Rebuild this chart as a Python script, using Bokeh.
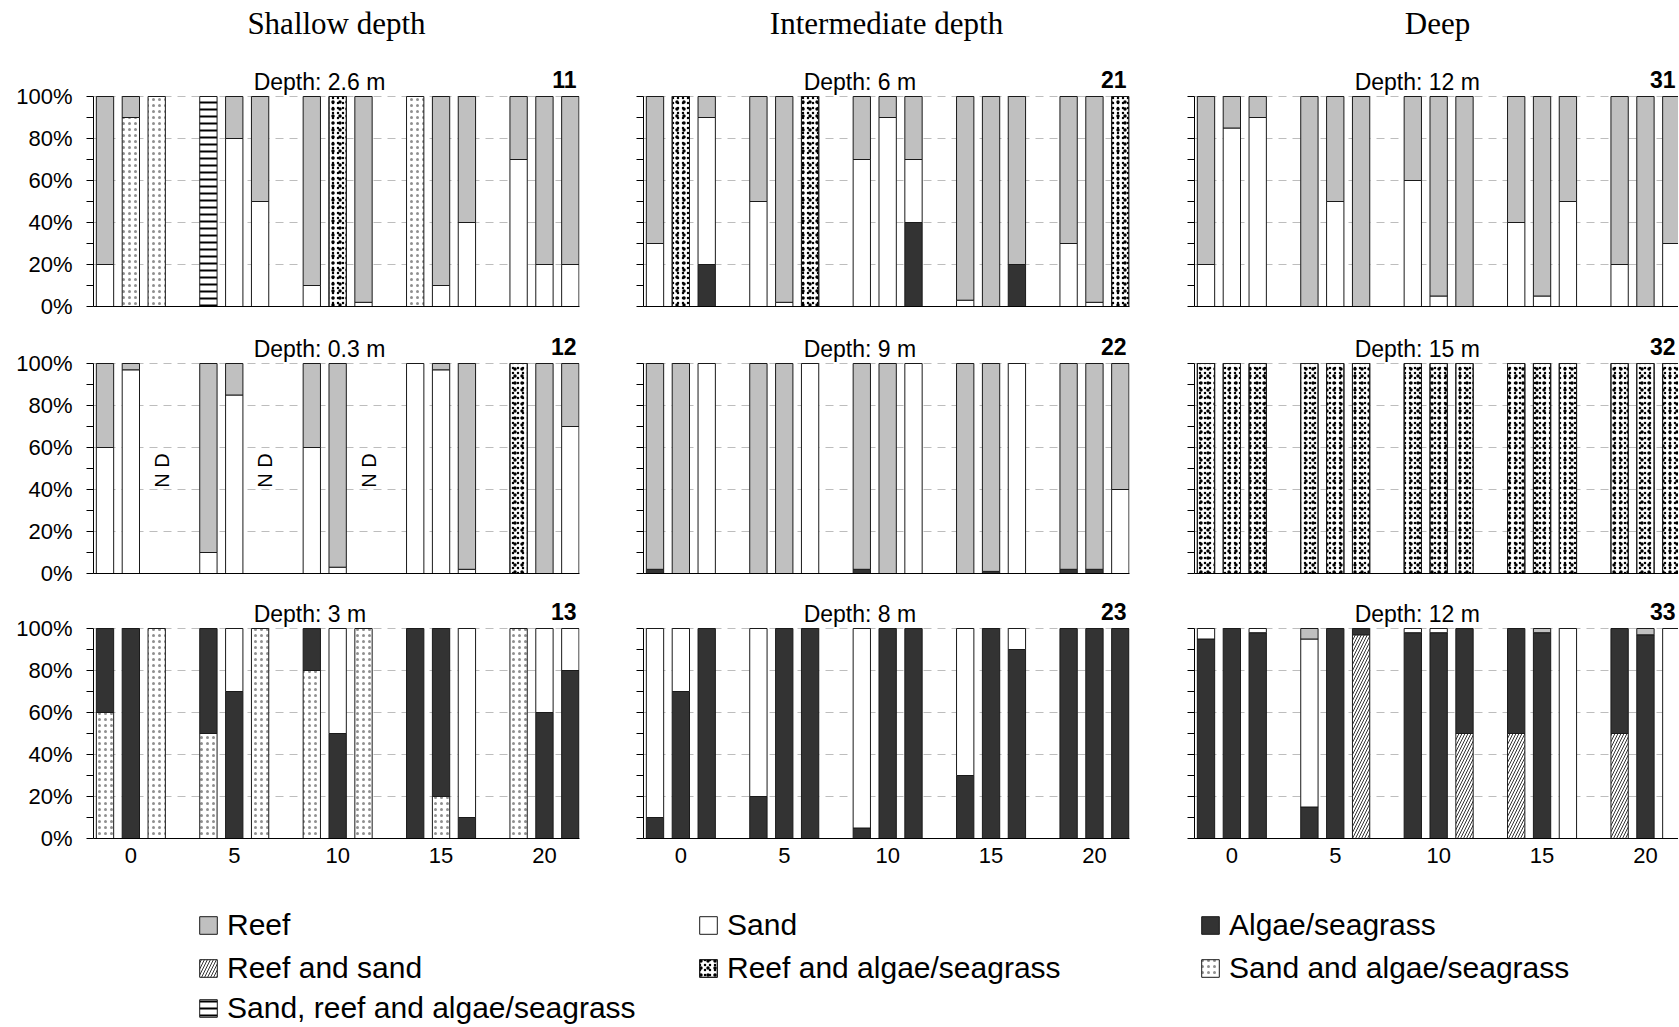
import math
from bokeh.plotting import figure
from bokeh.models import ColumnDataSource, Range1d, FixedTicker, Label, Legend, LegendItem
from bokeh.layouts import row, column
from bokeh.embed import file_html
from bokeh.resources import INLINE
from bokeh.core.properties import value

# ------------------------------------------------------------------ data
column_titles = ["Shallow depth", "Intermediate depth", "Deep"]
x_tick_labels = ["0", "5", "10", "15", "20"]          # distance groups
y_tick_values = [0, 20, 40, 60, 80, 100]
y_tick_labels = ["0%", "20%", "40%", "60%", "80%", "100%"]

# every list: 15 transects = 5 distance groups x 3 replicates (% of cover)
panel_11 = {
    "Reef":                          [80, 10, 0,   0, 20, 50,  90, 0, 98,   0, 90, 60,  30, 80, 80],
    "Sand":                          [20, 0, 0,    0, 80, 50,  10, 0, 2,    0, 10, 40,  70, 20, 20],
    "Sand and algae/seagrass":       [0, 90, 100,  0, 0, 0,    0, 0, 0,     100, 0, 0,  0, 0, 0],
    "Reef and algae/seagrass":       [0, 0, 0,     0, 0, 0,    0, 100, 0,   0, 0, 0,    0, 0, 0],
    "Sand, reef and algae/seagrass": [0, 0, 0,     100, 0, 0,  0, 0, 0,     0, 0, 0,    0, 0, 0],
}
panel_12 = {
    "Reef":                    [40, 3, 0,   90, 15, 0,  40, 97, 0,  0, 3, 98,    0, 100, 30],
    "Sand":                    [60, 97, 0,  10, 85, 0,  60, 3, 0,   100, 97, 2,  0, 0, 70],
    "Reef and algae/seagrass": [0, 0, 0,    0, 0, 0,    0, 0, 0,    0, 0, 0,     100, 0, 0],
}
panel_12_no_data = [0, 0, 1,  0, 0, 1,  0, 0, 1,  0, 0, 0,  0, 0, 0]
panel_13 = {
    "Sand and algae/seagrass": [60, 0, 100,  50, 0, 100,  80, 0, 100,  0, 20, 0,    100, 0, 0],
    "Algae/seagrass":          [40, 100, 0,  50, 70, 0,   20, 50, 0,   100, 80, 10, 0, 60, 80],
    "Sand":                    [0, 0, 0,     0, 30, 0,    0, 50, 0,    0, 0, 90,    0, 40, 20],
}
panel_21 = {
    "Reef":                    [70, 0, 10,  50, 98, 0,  30, 10, 30,  97, 100, 80,  70, 98, 0],
    "Sand":                    [30, 0, 70,  50, 2, 0,   70, 90, 30,  3, 0, 0,      30, 2, 0],
    "Algae/seagrass":          [0, 0, 20,   0, 0, 0,    0, 0, 40,    0, 0, 20,     0, 0, 0],
    "Reef and algae/seagrass": [0, 100, 0,  0, 0, 100,  0, 0, 0,     0, 0, 0,      0, 0, 100],
}
panel_22 = {
    "Reef":           [98, 100, 0,  100, 100, 0,  98, 100, 0,  100, 99, 0,  98, 98, 60],
    "Sand":           [0, 0, 100,   0, 0, 100,    0, 0, 100,   0, 0, 100,   0, 0, 40],
    "Algae/seagrass": [2, 0, 0,     0, 0, 0,      2, 0, 0,     0, 1, 0,     2, 2, 0],
}
panel_23 = {
    "Algae/seagrass": [10, 70, 100,  20, 100, 100,  5, 100, 100,  30, 100, 90,  100, 100, 100],
    "Sand":           [90, 30, 0,    80, 0, 0,      95, 0, 0,     70, 0, 10,    0, 0, 0],
}
panel_31 = {
    "Reef": [80, 15, 10,  100, 50, 100,  40, 95, 100,  60, 95, 50,  80, 100, 70],
    "Sand": [20, 85, 90,  0, 50, 0,      60, 5, 0,     40, 5, 50,   20, 0, 30],
}
panel_32 = {
    "Reef and algae/seagrass": [100, 100, 100,  100, 100, 100,  100, 100, 100,  100, 100, 100,  100, 100, 100],
}
panel_33 = {
    "Reef and sand":  [0, 0, 0,     0, 0, 97,   0, 0, 50,    50, 0, 0,   50, 0, 0],
    "Algae/seagrass": [95, 100, 98, 15, 100, 3, 98, 98, 50,  50, 98, 0,  50, 97, 0],
    "Sand":           [5, 0, 2,     80, 0, 0,   2, 2, 0,     0, 0, 100,  0, 0, 100],
    "Reef":           [0, 0, 0,     5, 0, 0,    0, 0, 0,     0, 2, 0,    0, 3, 0],
}

depth_labels = {"11": "Depth: 2.6 m", "12": "Depth: 0.3 m", "13": "Depth: 3 m",
                "21": "Depth: 6 m", "22": "Depth: 9 m", "23": "Depth: 8 m",
                "31": "Depth: 12 m", "32": "Depth: 15 m", "33": "Depth: 12 m"}

# ------------------------------------------------------------------ styles
STACK_ORDER = ["Sand, reef and algae/seagrass", "Reef and algae/seagrass",
               "Sand and algae/seagrass", "Reef and sand",
               "Algae/seagrass", "Sand", "Reef"]
# each category: list of layers drawn on top of each other
STYLE = {
    "Reef": [dict(fill_color="#c0c0c0")],
    "Sand": [dict(fill_color="white")],
    "Algae/seagrass": [dict(fill_color="#333333")],
    "Reef and sand": [dict(fill_color="white", hatch_pattern="right_diagonal_line",
                           hatch_scale=6, hatch_weight=1, hatch_color="#333333")],
    "Reef and algae/seagrass": [dict(fill_color="white", hatch_pattern="dot",
                                     hatch_scale=5, hatch_color="black"),
                                dict(fill_alpha=0, hatch_pattern="dot",
                                     hatch_scale=7, hatch_color="black")],
    "Sand and algae/seagrass": [dict(fill_color="white", hatch_pattern="dot",
                                     hatch_scale=6, hatch_color="#444444", hatch_alpha=0.6)],
    "Sand, reef and algae/seagrass": [dict(fill_color="white", hatch_pattern="horizontal_line",
                                           hatch_scale=7, hatch_weight=2, hatch_color="black")],
}
FONT = "Liberation Sans"
SERIF = "Liberation Serif"

FIG_W = [610, 552, 516]
BORDER_L = [93, 33, 32]
FRAME_W = [486, 486, 484]
FIG_H = [330, 266, 284]
BORDER_B = [24, 23, 42]
PX_PER_PCT = 2.1
SLOT_PX = 25.85
X0 = -0.445
BAR_W = 0.67

N_REP = 3
SLOT_PER_GROUP = 4
bar_x = [g * SLOT_PER_GROUP + k for g in range(len(x_tick_labels)) for k in range(N_REP)]
x_tick_pos = [g * SLOT_PER_GROUP + 1 for g in range(len(x_tick_labels))]


def make_panel(ci, ri, data, number, no_data=None):
    x_end = X0 + FRAME_W[ci] / SLOT_PX
    frame_h = FIG_H[ri] - BORDER_B[ri]
    y_end = frame_h / PX_PER_PCT
    p = figure(width=FIG_W[ci], height=FIG_H[ri], output_backend="svg",
               toolbar_location=None, x_range=Range1d(X0, x_end),
               y_range=Range1d(0, y_end),
               min_border_left=BORDER_L[ci],
               min_border_right=FIG_W[ci] - BORDER_L[ci] - FRAME_W[ci],
               min_border_top=0,
               min_border_bottom=BORDER_B[ri])
    p.outline_line_color = None
    p.background_fill_color = "white"
    p.border_fill_color = "white"

    # stacked bars
    cum = [0.0] * len(bar_x)
    for cat in STACK_ORDER:
        if cat not in data:
            continue
        vals = data[cat]
        xs, bots, tops = [], [], []
        for i, v in enumerate(vals):
            if v > 0:
                xs.append(bar_x[i]); bots.append(cum[i]); tops.append(cum[i] + v)
            cum[i] += v
        if xs:
            src = ColumnDataSource(dict(x=xs, bottom=bots, top=tops))
            for layer in STYLE[cat]:
                p.vbar(x="x", bottom="bottom", top="top", width=BAR_W, source=src,
                       line_color="#1a1a1a", line_width=1, **layer)

    if no_data is not None:
        nx = [bar_x[i] + 0.2 for i, f in enumerate(no_data) if f]
        p.text(x=nx, y=[49] * len(nx), text=["N D"] * len(nx), angle=math.pi / 2,
               text_font=value(FONT), text_font_size="20px", text_align="center",
               text_baseline="middle", text_color="black")

    # axes
    yax = p.yaxis[0]
    yax.bounds = (0, 100)
    yax.ticker = FixedTicker(ticks=y_tick_values, minor_ticks=[10, 30, 50, 70, 90])
    if ci == 0:
        yax.major_label_overrides = {v: l for v, l in zip(y_tick_values, y_tick_labels)}
    else:
        yax.major_label_overrides = {v: "" for v in y_tick_values}
    yax.major_label_text_font = FONT
    yax.major_label_text_font_size = "22px"
    yax.major_label_text_color = "black"
    yax.major_label_standoff = 14
    yax.major_tick_out = 7
    yax.major_tick_in = 0
    yax.minor_tick_out = 7
    yax.minor_tick_in = 0
    yax.axis_line_color = "black"
    yax.major_tick_line_color = "black"
    yax.minor_tick_line_color = "black"

    xax = p.xaxis[0]
    if ri == 2:
        xax.ticker = FixedTicker(ticks=x_tick_pos)
        xax.major_label_overrides = {v: l for v, l in zip(x_tick_pos, x_tick_labels)}
    else:
        xax.ticker = FixedTicker(ticks=[])
    xax.major_label_text_font = FONT
    xax.major_label_text_font_size = "22px"
    xax.major_label_text_color = "black"
    xax.major_label_standoff = 9
    xax.major_tick_out = 0
    xax.major_tick_in = 0
    xax.minor_tick_out = 0
    xax.minor_tick_in = 0
    xax.axis_line_color = "black"

    p.xgrid.visible = False
    p.ygrid.ticker = FixedTicker(ticks=[20, 40, 60, 80, 100])
    p.ygrid.grid_line_color = "#bdbdbd"
    p.ygrid.grid_line_dash = "8 6"
    p.ygrid.grid_line_width = 1

    # labels
    p.add_layout(Label(x=5.75, y=100, y_offset=15, text=depth_labels[number],
                       text_font=FONT, text_font_size="23px", text_align="left",
                       text_baseline="alphabetic", text_color="black"))
    p.add_layout(Label(x=x_end, y=100, x_offset=-3, y_offset=17, text=number,
                       text_font=FONT, text_font_size="23px", text_font_style="bold",
                       text_align="right", text_baseline="alphabetic", text_color="black"))
    if ri == 0:
        p.add_layout(Label(x=(X0 + X0 + 486 / SLOT_PX) / 2, y=100, y_offset=73,
                           text=column_titles[ci], text_font=SERIF, text_font_size="31px",
                           text_align="center", text_baseline="alphabetic", text_color="black"))
    return p


grid = [
    [(panel_11, "11", None), (panel_21, "21", None), (panel_31, "31", None)],
    [(panel_12, "12", panel_12_no_data), (panel_22, "22", None), (panel_32, "32", None)],
    [(panel_13, "13", None), (panel_23, "23", None), (panel_33, "33", None)],
]
rows = []
for ri, r in enumerate(grid):
    figs = [make_panel(ci, ri, d, n, nd) for ci, (d, n, nd) in enumerate(r)]
    rows.append(row(*figs))

# ------------------------------------------------------------------ legend
LEG_H = 146
leg = figure(width=1678, height=LEG_H, output_backend="svg", toolbar_location=None,
             x_axis_type=None, y_axis_type=None, x_range=Range1d(0, 1), y_range=Range1d(0, 1),
             min_border=0)
leg.outline_line_color = None
leg.grid.visible = False

legend_columns = [["Reef", "Reef and sand", "Sand, reef and algae/seagrass"],
                  ["Sand", "Reef and algae/seagrass"],
                  ["Algae/seagrass", "Sand and algae/seagrass"]]
col_x = [197, 697, 1199]
row_center = [45, 88, 128]
GLYPH = 22
for c, cats in enumerate(legend_columns):
    for k, cat in enumerate(cats):
        # placeholder renderers (no drawable data) carrying the bar style for the swatch
        rrs = [leg.vbar(x=[float("nan")], bottom=[0], top=[0], width=0.01,
                        line_color="#1a1a1a", line_width=1, **layer) for layer in STYLE[cat]]
        lg = Legend(items=[LegendItem(label=cat, renderers=rrs)],
                    location=(col_x[c], LEG_H - row_center[k] - 17),
                    orientation="vertical", padding=0, margin=0, spacing=0,
                    glyph_width=GLYPH, glyph_height=GLYPH, label_standoff=8,
                    label_text_font=FONT, label_text_font_size="30px",
                    label_text_color="black",
                    border_line_color=None, background_fill_alpha=0)
        leg.add_layout(lg)

layout = column(*rows, leg)
open("out.html", "w").write(file_html(layout, INLINE))
